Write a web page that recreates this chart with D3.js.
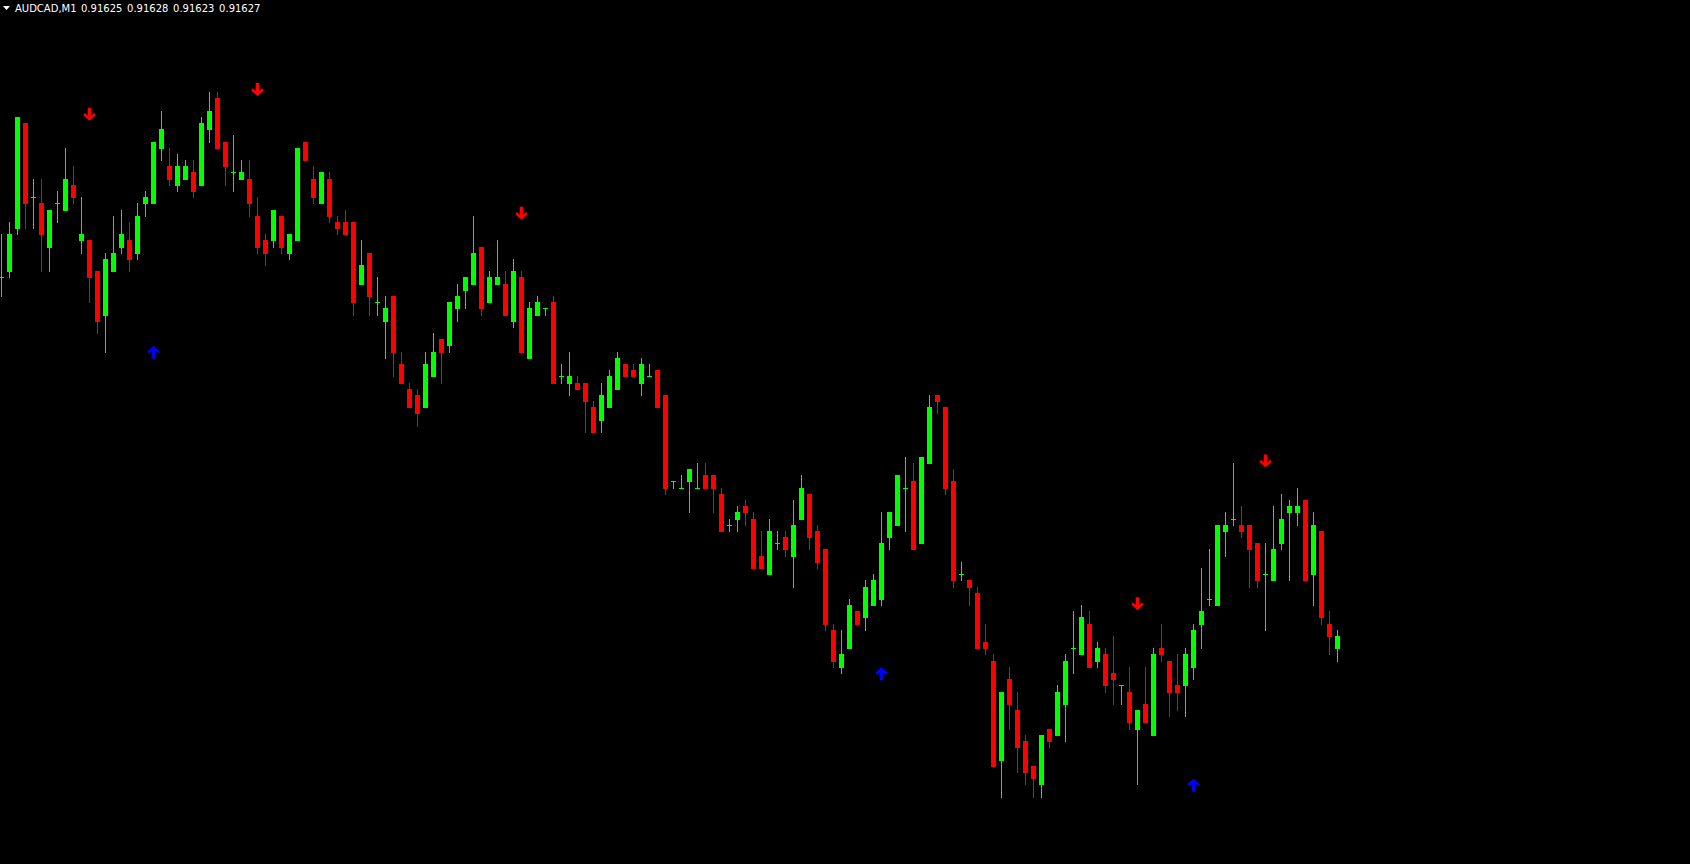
<!DOCTYPE html>
<html>
<head>
<meta charset="utf-8">
<script src="https://cdn.jsdelivr.net/npm/d3@7"></script>
<style>
  html, body { margin: 0; padding: 0; background: #000; overflow: hidden; }
  svg { display: block; }
</style>
</head>
<body>
<svg id="chart" width="1690" height="864"></svg>
<script>
// AUDCAD M1, one value per bar, oldest first
const symbol = 'AUDCAD,M1';

const opens = [
  0.91685,0.91686,0.91693,0.91710,0.91698,0.91697,0.91690,0.91697,0.91696,0.91700,
  0.91691,0.91691,0.91686,0.91679,0.91686,0.91690,0.91691,0.91689,0.91697,0.91697,
  0.91706,0.91703,0.91700,0.91701,0.91702,0.91700,0.91709,0.91714,0.91707,0.91702,
  0.91701,0.91701,0.91695,0.91691,0.91691,0.91695,0.91689,0.91691,0.91707,0.91701,
  0.91697,0.91701,0.91694,0.91694,0.91694,0.91684,0.91689,0.91681,0.91678,0.91682,
  0.91671,0.91667,0.91666,0.91664,0.91669,0.91675,0.91674,0.91680,0.91683,0.91684,
  0.91690,0.91681,0.91684,0.91684,0.91678,0.91685,0.91672,0.91679,0.91680,0.91681,
  0.91669,0.91668,0.91668,0.91668,0.91664,0.91662,0.91664,0.91667,0.91671,0.91670,
  0.91668,0.91669,0.91670,0.91666,0.91652,0.91651,0.91652,0.91651,0.91653,0.91653,
  0.91650,0.91645,0.91646,0.91648,0.91646,0.91640,0.91637,0.91642,0.91643,0.91640,
  0.91646,0.91650,0.91644,0.91641,0.91628,0.91622,0.91625,0.91631,0.91630,0.91632,
  0.91633,0.91643,0.91645,0.91651,0.91652,0.91642,0.91655,0.91666,0.91664,0.91652,
  0.91637,0.91636,0.91634,0.91626,0.91623,0.91607,0.91620,0.91615,0.91610,0.91606,
  0.91603,0.91612,0.91611,0.91616,0.91625,0.91624,0.91629,0.91623,0.91624,0.91621,
  0.91619,0.91618,0.91612,0.91616,0.91611,0.91625,0.91623,0.91619,0.91619,0.91622,
  0.91629,0.91633,0.91632,0.91644,0.91646,0.91645,0.91645,0.91642,0.91637,0.91636,
  0.91642,0.91647,0.91647,0.91649,0.91637,0.91644,0.91629,0.91625
];

const highs = [
  0.91692,0.91694,0.91711,0.91710,0.91701,0.91701,0.91696,0.91699,0.91706,0.91703,
  0.91698,0.91691,0.91686,0.91689,0.91695,0.91696,0.91694,0.91697,0.91699,0.91707,
  0.91712,0.91706,0.91705,0.91704,0.91704,0.91711,0.91715,0.91715,0.91707,0.91708,
  0.91704,0.91704,0.91698,0.91692,0.91696,0.91695,0.91692,0.91706,0.91707,0.91703,
  0.91702,0.91702,0.91695,0.91696,0.91694,0.91691,0.91689,0.91685,0.91682,0.91682,
  0.91673,0.91668,0.91667,0.91673,0.91676,0.91675,0.91681,0.91684,0.91685,0.91695,
  0.91690,0.91686,0.91691,0.91686,0.91688,0.91686,0.91681,0.91682,0.91680,0.91682,
  0.91671,0.91673,0.91669,0.91668,0.91665,0.91668,0.91670,0.91673,0.91671,0.91671,
  0.91672,0.91671,0.91670,0.91666,0.91652,0.91653,0.91654,0.91655,0.91655,0.91653,
  0.91651,0.91646,0.91648,0.91649,0.91647,0.91644,0.91646,0.91644,0.91644,0.91649,
  0.91653,0.91650,0.91645,0.91641,0.91629,0.91628,0.91633,0.91631,0.91636,0.91637,
  0.91647,0.91647,0.91653,0.91656,0.91655,0.91656,0.91666,0.91666,0.91664,0.91654,
  0.91639,0.91636,0.91635,0.91629,0.91624,0.91618,0.91622,0.91618,0.91611,0.91606,
  0.91611,0.91612,0.91619,0.91624,0.91631,0.91632,0.91631,0.91626,0.91625,0.91627,
  0.91619,0.91622,0.91615,0.91622,0.91625,0.91629,0.91623,0.91624,0.91625,0.91629,
  0.91638,0.91641,0.91645,0.91647,0.91655,0.91648,0.91645,0.91642,0.91642,0.91648,
  0.91650,0.91649,0.91651,0.91649,0.91647,0.91644,0.91631,0.91628
];

const lows = [
  0.91682,0.91685,0.91692,0.91693,0.91693,0.91686,0.91686,0.91694,0.91696,0.91697,
  0.91689,0.91681,0.91676,0.91673,0.91686,0.91689,0.91686,0.91688,0.91695,0.91697,
  0.91704,0.91700,0.91699,0.91701,0.91698,0.91700,0.91707,0.91706,0.91700,0.91699,
  0.91701,0.91695,0.91689,0.91687,0.91690,0.91689,0.91688,0.91691,0.91704,0.91697,
  0.91697,0.91694,0.91692,0.91692,0.91679,0.91684,0.91679,0.91679,0.91672,0.91669,
  0.91668,0.91664,0.91661,0.91664,0.91669,0.91668,0.91673,0.91678,0.91680,0.91684,
  0.91679,0.91681,0.91684,0.91679,0.91677,0.91673,0.91672,0.91679,0.91679,0.91668,
  0.91668,0.91666,0.91667,0.91660,0.91660,0.91660,0.91664,0.91667,0.91669,0.91669,
  0.91666,0.91669,0.91664,0.91650,0.91651,0.91651,0.91647,0.91651,0.91651,0.91647,
  0.91644,0.91644,0.91644,0.91645,0.91638,0.91638,0.91637,0.91641,0.91640,0.91635,
  0.91646,0.91641,0.91638,0.91628,0.91622,0.91621,0.91625,0.91629,0.91628,0.91632,
  0.91632,0.91641,0.91645,0.91644,0.91641,0.91642,0.91655,0.91663,0.91650,0.91635,
  0.91636,0.91632,0.91625,0.91624,0.91606,0.91601,0.91612,0.91605,0.91603,0.91601,
  0.91601,0.91609,0.91611,0.91610,0.91621,0.91624,0.91622,0.91622,0.91618,0.91616,
  0.91616,0.91612,0.91603,0.91613,0.91611,0.91623,0.91614,0.91615,0.91614,0.91620,
  0.91625,0.91632,0.91632,0.91640,0.91645,0.91643,0.91635,0.91635,0.91628,0.91636,
  0.91641,0.91636,0.91645,0.91636,0.91632,0.91629,0.91624,0.91623
];

const closes = [
  0.91685,0.91692,0.91711,0.91697,0.91698,0.91692,0.91696,0.91697,0.91701,0.91698,
  0.91692,0.91685,0.91678,0.91688,0.91689,0.91692,0.91688,0.91695,0.91698,0.91707,
  0.91709,0.91701,0.91703,0.91703,0.91699,0.91710,0.91712,0.91706,0.91703,0.91702,
  0.91702,0.91697,0.91690,0.91689,0.91696,0.91690,0.91692,0.91706,0.91704,0.91698,
  0.91702,0.91695,0.91693,0.91692,0.91681,0.91687,0.91682,0.91681,0.91680,0.91673,
  0.91668,0.91664,0.91663,0.91671,0.91673,0.91673,0.91681,0.91682,0.91685,0.91689,
  0.91680,0.91685,0.91685,0.91679,0.91686,0.91673,0.91680,0.91681,0.91680,0.91668,
  0.91669,0.91669,0.91667,0.91665,0.91660,0.91666,0.91669,0.91672,0.91669,0.91669,
  0.91671,0.91669,0.91664,0.91651,0.91652,0.91651,0.91654,0.91651,0.91651,0.91651,
  0.91644,0.91645,0.91647,0.91647,0.91638,0.91638,0.91644,0.91642,0.91641,0.91645,
  0.91651,0.91643,0.91639,0.91629,0.91623,0.91624,0.91632,0.91629,0.91635,0.91636,
  0.91642,0.91647,0.91653,0.91651,0.91641,0.91656,0.91664,0.91665,0.91651,0.91636,
  0.91637,0.91635,0.91625,0.91625,0.91606,0.91618,0.91616,0.91609,0.91605,0.91604,
  0.91611,0.91610,0.91618,0.91623,0.91625,0.91630,0.91622,0.91625,0.91619,0.91620,
  0.91619,0.91613,0.91615,0.91613,0.91624,0.91624,0.91618,0.91618,0.91624,0.91628,
  0.91631,0.91633,0.91645,0.91645,0.91646,0.91644,0.91641,0.91636,0.91637,0.91641,
  0.91646,0.91648,0.91648,0.91636,0.91645,0.91630,0.91627,0.91627
];

// indicator signals: bar index and price of the arrow
const sellBars   = [11, 32, 65, 142, 158];
const sellPrices = [0.917114, 0.917154, 0.916954, 0.916322, 0.916553];
const buyBars    = [19, 110, 149];
const buyPrices  = [0.916729, 0.916209, 0.916029];

const width = 1690, height = 864;
const priceMax = 0.917299, priceMin = 0.915901;
const barStep = 8;

const bars = opens.map((o, i) => ({ i, o, h: highs[i], l: lows[i], c: closes[i] }));

const svg = d3.select('#chart');
svg.append('rect').attr('width', width).attr('height', height).attr('fill', '#000');

const x = d3.scaleLinear()
  .domain([0, bars.length - 1])
  .range([1.5, 1.5 + barStep * (bars.length - 1)]);

const y = d3.scaleLinear()
  .domain([priceMin, priceMax])
  .range([height, 0]);

const py = v => Math.round(y(v));
const bull = d => d.c >= d.o;
const colour = d => bull(d) ? '#00ff00' : '#ff0000';

const g = svg.append('g').attr('shape-rendering', 'crispEdges');

// wicks
g.selectAll('rect.wick')
  .data(bars)
  .join('rect')
  .attr('class', 'wick')
  .attr('x', d => x(d.i) - 0.5)
  .attr('y', d => py(d.h))
  .attr('width', 1)
  .attr('height', d => py(d.l) - py(d.h) + 1)
  .attr('fill', colour);

// bodies
g.selectAll('rect.body')
  .data(bars)
  .join('rect')
  .attr('class', 'body')
  .attr('x', d => x(d.i) - 2.5)
  .attr('y', d => py(Math.max(d.o, d.c)))
  .attr('width', 5)
  .attr('height', d => py(Math.min(d.o, d.c)) - py(Math.max(d.o, d.c)) + 1)
  .attr('fill', colour);

// arrows, drawn around their centre
const downArrow = 'M-1.8,-6.5L1.8,-6.5L1.8,1.5L4.6,-1.3L6.2,0.8L0,6.5L-6.2,0.8L-4.6,-1.3L-1.8,1.5Z';
const upArrow = 'M-1.8,6.5L1.8,6.5L1.8,-1.5L4.6,1.3L6.2,-0.8L0,-6.5L-6.2,-0.8L-4.6,1.3L-1.8,-1.5Z';

svg.selectAll('path.sell')
  .data(sellBars.map((b, i) => ({ b, p: sellPrices[i] })))
  .join('path')
  .attr('class', 'sell')
  .attr('d', downArrow)
  .attr('transform', d => `translate(${x(d.b)},${y(d.p)})`)
  .attr('fill', '#ff0000');

svg.selectAll('path.buy')
  .data(buyBars.map((b, i) => ({ b, p: buyPrices[i] })))
  .join('path')
  .attr('class', 'buy')
  .attr('d', upArrow)
  .attr('transform', d => `translate(${x(d.b)},${y(d.p)})`)
  .attr('fill', '#0000ff');

// header: symbol and OHLC of the last bar
const last = bars[bars.length - 1];
svg.append('path').attr('d', 'M3,6L10,6L6.5,10Z').attr('fill', '#fff');
svg.append('text')
  .attr('x', 15).attr('y', 12)
  .attr('fill', '#fff')
  .style('font', '10px "DejaVu Sans", sans-serif')
  .text(symbol);
svg.append('text')
  .attr('x', 81).attr('y', 12)
  .attr('fill', '#fff')
  .style('font', '10px "DejaVu Sans", sans-serif')
  .style('word-spacing', '1.5px')
  .text([last.o, last.h, last.l, last.c].map(d3.format('.5f')).join(' '));
</script>
</body>
</html>
